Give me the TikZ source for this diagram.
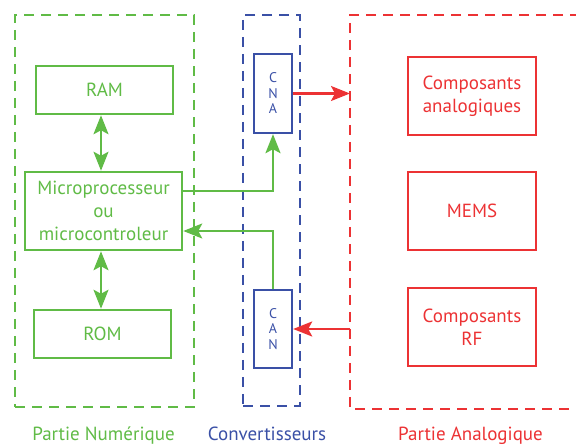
\documentclass[tikz,border=0pt]{standalone}
\usepackage{fontspec}
\setmainfont{PT Sans}
\usetikzlibrary{arrows.meta}
\definecolor{cgreen}{RGB}{96,187,70}
\definecolor{cblue}{RGB}{58,80,166}
\definecolor{cred}{RGB}{236,50,52}
\tikzset{
  box/.style={draw, line width=2.5pt, rectangle, inner sep=0pt, align=center, font=\fontsize{19}{23}\selectfont},
  gbox/.style={box, draw=cgreen, text=cgreen},
  rbox/.style={box, draw=cred, text=cred},
  cbox/.style={draw=cblue, line width=2.4pt, rectangle, inner sep=0pt, text=cblue, align=center, minimum width=38pt, font=\fontsize{14}{15.5}\selectfont},
  zone/.style={line width=2.4pt, dash pattern=on 10pt off 7pt},
  conn/.style={line width=2.4pt},
  tip/.style={-{Stealth[length=19pt,width=15pt,inset=4pt]}},
  dtip/.style={{Stealth[length=19pt,width=15pt,inset=4pt]}-{Stealth[length=19pt,width=15pt,inset=4pt]}},
  lab/.style={font=\fontsize{19}{22}\selectfont, anchor=base, inner sep=0pt}
}
\begin{document}
\begin{tikzpicture}[x=1pt,y=-1pt]
\useasboundingbox (0,0) rectangle (576,446);
% zones
\node[draw=cgreen, zone, minimum width=179pt, minimum height=392pt, inner sep=0pt] (zg) at (104.5,211) {};
\node[draw=cblue, zone, minimum width=57pt, minimum height=391pt, inner sep=0pt] (zb) at (271.5,210.5) {};
\draw[cred, zone] (580,15) coordinate (zrA) -- (350,15) -- (350,409) -- (580,409) coordinate (zrB);
\coordinate (redL) at (350,0);
% digital
\node[gbox, minimum width=137pt, minimum height=48pt] (ram) at (104.5,90) {RAM};
\node[gbox, minimum width=157pt, minimum height=78pt] (mic) at (103.5,211) {Microprocesseur\\ou\\microcontroleur};
\node[gbox, minimum width=137pt, minimum height=48pt] (rom) at (102.5,334) {ROM};
% converters
\node[cbox, minimum height=79pt] (cna) at (273,93.5) {C\\N\\A};
\node[cbox, minimum height=78pt] (can) at (273,329) {C\\A\\N};
% analog
\node[rbox, minimum width=128pt, minimum height=78pt] (ca) at (472,96) {Composants\\analogiques};
\node[rbox, minimum width=128pt, minimum height=78pt] (mems) at (472,211) {MEMS};
\node[rbox, minimum width=128pt, minimum height=78pt] (rf) at (472,327) {Composants\\RF};
% connectors
\coordinate (colx) at (101,0);
\coordinate (r1) at (0,191);
\coordinate (r2) at (0,231);
\draw[cgreen, conn, dtip] (ram.south -| colx) -- (mic.north -| colx);
\draw[cgreen, conn, dtip] (mic.south -| colx) -- (rom.north -| colx);
\draw[cgreen, conn, tip] (mic.east |- r1) -| (cna.south);
\draw[cgreen, conn, tip] (can.north) |- (mic.east |- r2);
\draw[cred, conn, tip] (cna.east) -- (cna.east -| redL);
\draw[cred, conn, tip] (can.east -| redL) -- (can.east);
% labels
\node[lab, text=cgreen] (l1) at (103.5,440) {Partie Numérique};
\node[lab, text=cblue] (l2) at (267,440) {Convertisseurs};
\node[lab, text=cred] (l3) at (470.5,440) {Partie Analogique};
\end{tikzpicture}
\end{document}
